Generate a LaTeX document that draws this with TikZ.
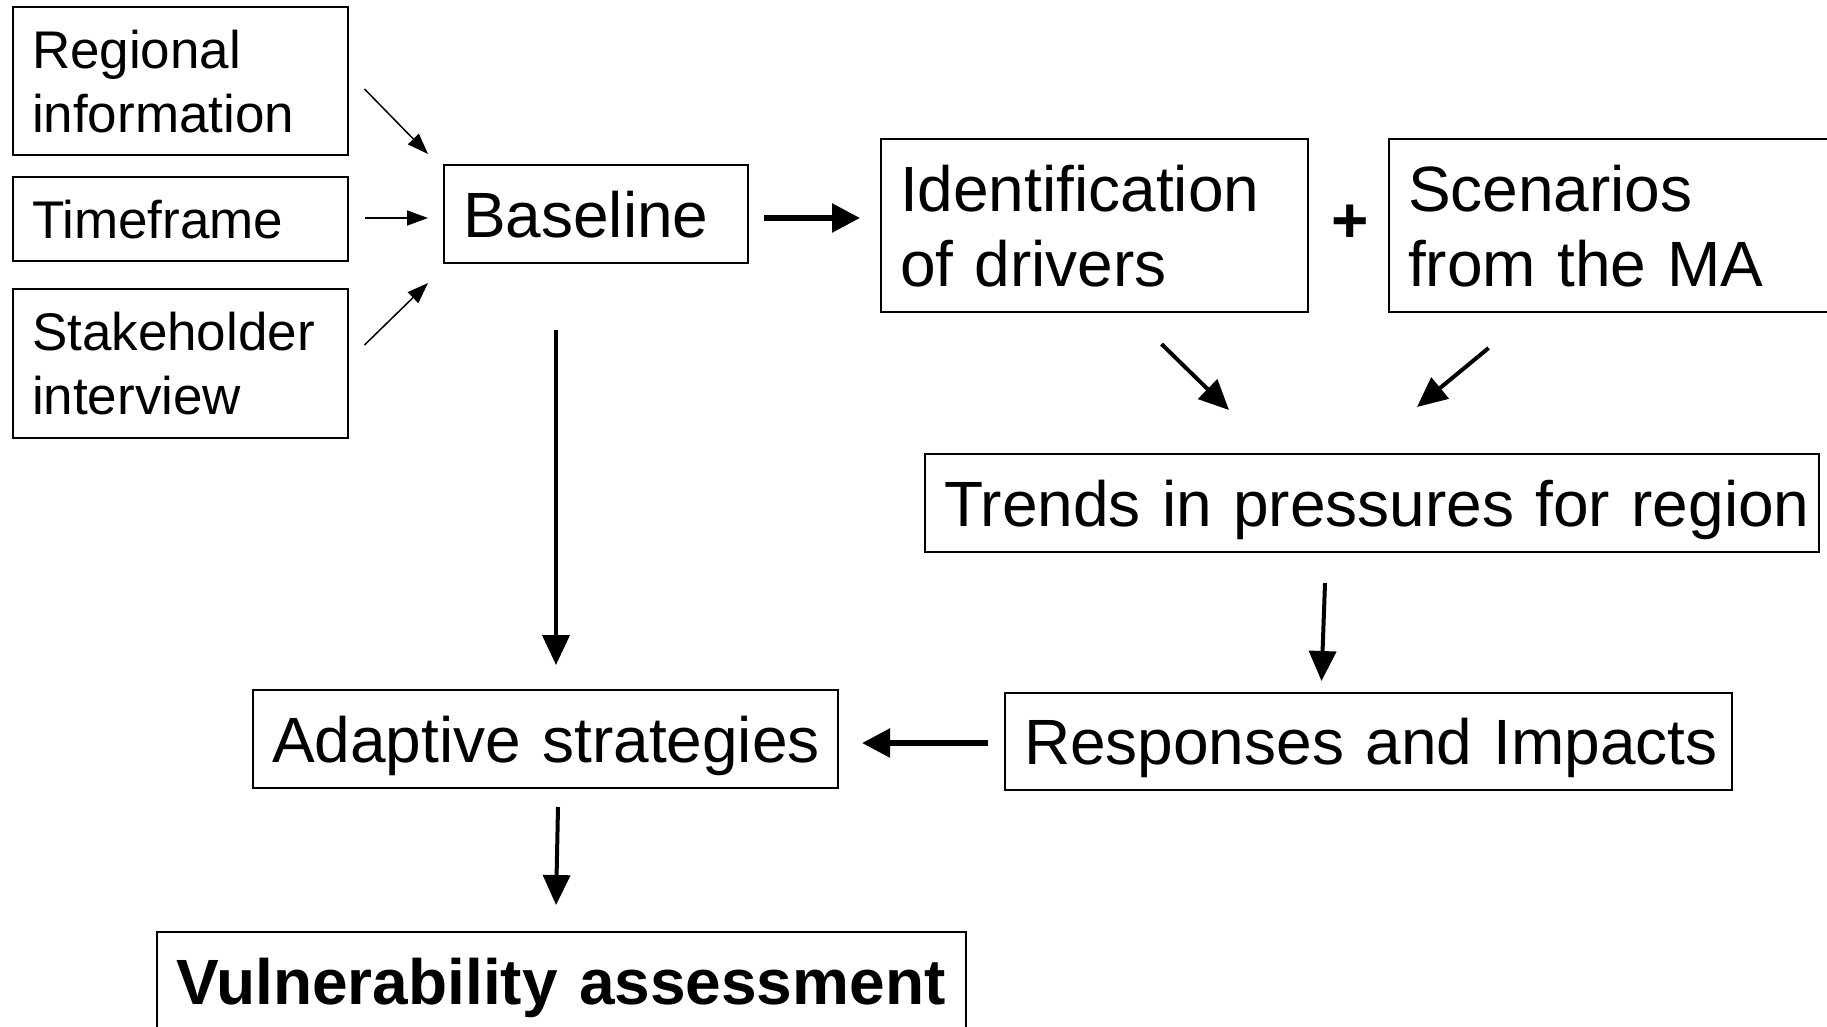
\documentclass[tikz,border=0pt]{standalone}
\usepackage{fontspec}
\setmainfont{Liberation Sans}
\usetikzlibrary{arrows.meta}
\newcommand\myBigSize{\fontsize{64}{75}\selectfont\fontdimen2\font=15.3pt\relax}
\begin{document}
\begin{tikzpicture}[x=1pt,y=-1pt,
  box/.style={draw, line width=2pt, anchor=north west, align=left, inner xsep=19pt, inner ysep=0pt},
  smalltxt/.style={font=\fontsize{53}{64}\selectfont, text height=38pt},
  bigtxt/.style={font=\myBigSize, text height=46pt},
  boldtxt/.style={font=\bfseries\fontsize{64}{75}\selectfont, text height=46pt},
  oneline/.style={text depth=0pt},
  twosmall/.style={text depth=64pt},
  twobig/.style={text depth=75pt},
  thinarr/.style={line width=1.5pt, -{Triangle[length=21pt,width=15pt]}},
  medarr/.style={line width=4pt, -{Triangle[length=30pt,width=27pt]}},
  thickarr/.style={line width=5.5pt, -{Triangle[length=28pt,width=28pt]}}
]
\useasboundingbox (0,0) rectangle (1827,1026);

% boxes
\node[box,smalltxt,twosmall,text width=297pt,minimum height=148pt] (reg) at (12,6) {Regional\\information};
\node[box,smalltxt,oneline,text width=297pt,minimum height=84pt] (time) at (12,176) {Timeframe};
\node[box,smalltxt,twosmall,text width=297pt,minimum height=149pt] (stake) at (12,288) {Stakeholder\\interview};
\node[box,bigtxt,oneline,text width=266pt,minimum height=98pt] (base) at (443,164) {Baseline};
\node[box,bigtxt,twobig,text width=389pt,minimum height=173pt] (ident) at (880,138) {\mbox{Identification}\\\mbox{of drivers}};
\node[box,bigtxt,twobig,text width=422pt,minimum height=173pt] (scen) at (1388,138) {\mbox{Scenarios}\\\mbox{from the MA}};
\node[box,bigtxt,oneline,text width=856pt,minimum height=98pt] (trends) at (924,453) {\mbox{Trends in pressures for region}};
\node[box,bigtxt,oneline,text width=689pt,minimum height=97pt] (resp) at (1004,692) {\mbox{Responses and Impacts}};
\node[box,bigtxt,oneline,text width=547pt,minimum height=98pt] (adapt) at (252,689) {\mbox{Adaptive strategies}};
\node[box,boldtxt,oneline,text width=771pt,minimum height=98pt] (vuln) at (156,931) {\mbox{Vulnerability assessment}};
\node[font=\bfseries\fontsize{64}{75}\selectfont, inner sep=0pt] (plus) at (1350,224) {+};

% arrow end points
\coordinate (regS) at (364.5,89);   \coordinate (regE) at (428,154);
\coordinate (timeS) at (364.5,218); \coordinate (timeE) at (428,218);
\coordinate (stakeS) at (364.5,345);\coordinate (stakeE) at (428,283);
\coordinate (baseS) at (764,218);   \coordinate (baseE) at (860,218);
\coordinate (downS) at (556,330);   \coordinate (downE) at (556,665);
\coordinate (idS) at (1161.5,344);  \coordinate (idE) at (1229,410);
\coordinate (scS) at (1488.6,348);  \coordinate (scE) at (1417,407);
\coordinate (trS) at (1325,583);    \coordinate (trE) at (1321.5,681);
\coordinate (rsS) at (988,743);     \coordinate (rsE) at (862,743);
\coordinate (adS) at (558,807);     \coordinate (adE) at (556,905);

\draw[thinarr] (regS) -- (regE);
\draw[thinarr] (timeS) -- (timeE);
\draw[thinarr] (stakeS) -- (stakeE);
\draw[thickarr] (baseS) -- (baseE);
\draw[medarr] (downS) -- (downE);
\draw[medarr] (idS) -- (idE);
\draw[medarr] (scS) -- (scE);
\draw[medarr] (trS) -- (trE);
\draw[thickarr] (rsS) -- (rsE);
\draw[medarr] (adS) -- (adE);
\end{tikzpicture}
\end{document}
